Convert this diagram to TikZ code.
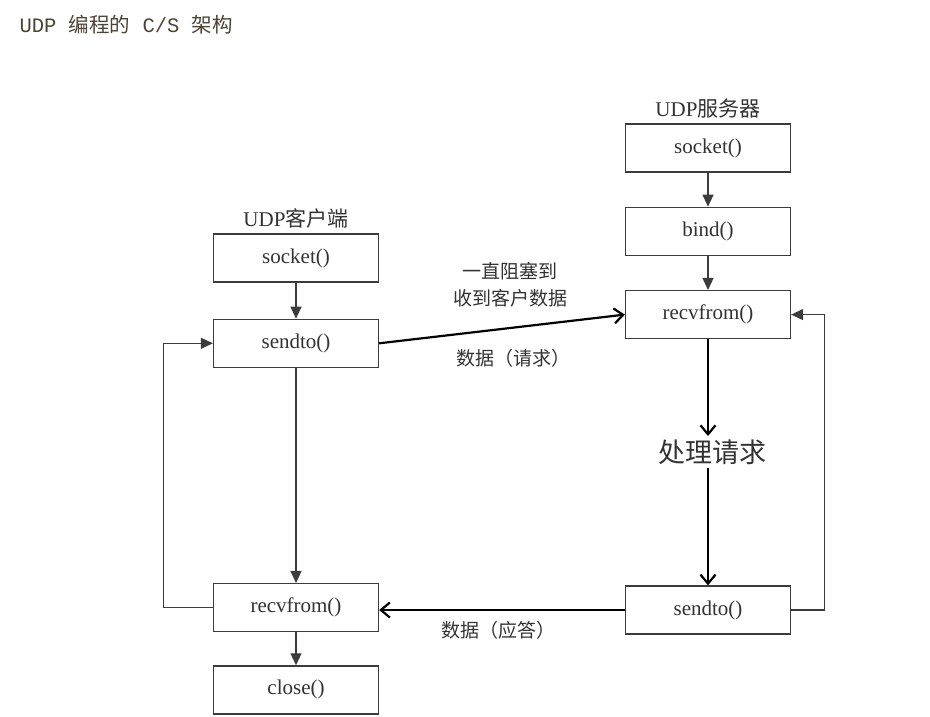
\documentclass[tikz,border=0pt]{standalone}
\usepackage{fontspec}
\setmainfont{Liberation Serif}
\setmonofont{Liberation Mono}
\newfontfamily\cjk{Noto Sans CJK SC}
\usetikzlibrary{arrows.meta,positioning}
\definecolor{linegray}{RGB}{60,60,60}
\definecolor{textgray}{RGB}{50,50,50}

\begin{document}
\begin{tikzpicture}[x=1pt, y=-1pt,
        node distance=34pt,
        fnbox/.style={rectangle, draw=linegray, line width=1.3pt, minimum width=165pt, minimum height=48pt, inner sep=0pt, font=\fontsize{21}{24}\selectfont, text=textgray},
        lbl/.style={font=\fontsize{21}{24}\selectfont, text=textgray, align=center},
        note/.style={font=\cjk\fontsize{19}{27}\selectfont, text=textgray, align=center},
        arrow/.style={-{Triangle[length=12pt, width=11pt]}, line width=1.2pt, linegray},
        bigarrow/.style={-{Straight Barb[length=9pt, width=15pt]}, line width=2.2pt, black}
    ]
    \useasboundingbox (0,0) rectangle (930,716);
    \node[anchor=west, font=\fontsize{20.5}{23}\selectfont, text=textgray!80!brown] (title) at (16,25) {\ttfamily UDP {\cjk 编程的} C/S {\cjk 架构}};
    % client
    \node[fnbox] (csock) at (296,258) {socket()};
    \node[lbl, above=2pt of csock] (client) {UDP{\cjk 客户端}};
    \node[fnbox, below=36pt of csock] (csend) {sendto()};
    \node[fnbox, below=215pt of csend] (crecv) {recvfrom()};
    \node[fnbox, below=33pt of crecv] (cclose) {close()};
    % server
    \node[fnbox] (ssock) at (708,148) {socket()};
    \node[lbl, above=2pt of ssock] (server) {UDP{\cjk 服务器}};
    \node[fnbox, below=of ssock] (sbind) {bind()};
    \node[fnbox, below=of sbind] (srecv) {recvfrom()};
    \node[font=\cjk\fontsize{27}{30}\selectfont, text=textgray] (proc) at (712,452) {处理请求};
    \node[fnbox] (ssend) at (708,610) {sendto()};
    % labels
    \node[note] (wait) at (510,285) {一直阻塞到\\收到客户数据};
    \node[note] (req) at (513,358) {数据（请求）};
    \node[note] (resp) at (498,630) {数据（应答）};
    \draw[arrow] (csock) -- (csend);
    \draw[arrow] (csend) -- (crecv);
    \draw[arrow] (crecv) -- (cclose);
    \draw[arrow] (crecv.west) -- ++(-49,0) |- (csend.west);
    \draw[arrow] (ssock) -- (sbind);
    \draw[arrow] (sbind) -- (srecv);
    \draw[arrow] (ssend.east) -- ++(33,0) |- (srecv.east);
    \draw[bigarrow] (srecv.south) -- (srecv.south |- proc.north);
    \draw[bigarrow] (srecv.south |- proc.south) -- (ssend.north);
    \draw[bigarrow] (csend.east) -- (srecv.west);
    \draw[bigarrow] (ssend.west) -- (ssend.west -| crecv.east);
\end{tikzpicture}
\end{document}
